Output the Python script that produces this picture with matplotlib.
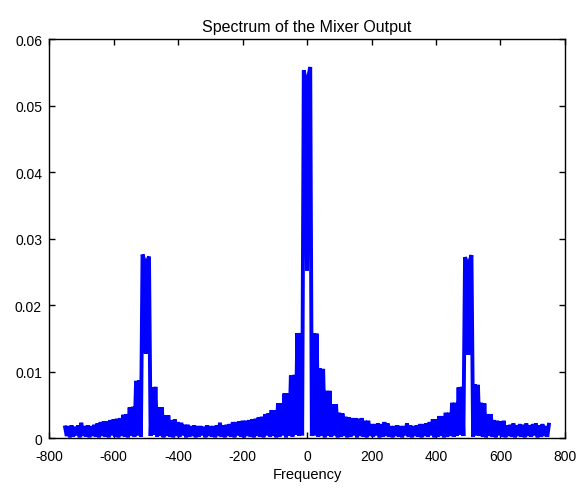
import numpy as np
import matplotlib
matplotlib.use("Agg")
import matplotlib.pyplot as plt

# Upper zigzag values at f = -750, -740, ..., 750 (151 values)
highs = [
    0.0016, 0.0018, 0.0019, 0.0017, 0.0019, 0.0023, 0.0018, 0.0019, 0.0018, 0.0020,
    0.0022, 0.0024, 0.0025, 0.0025, 0.0027, 0.0028, 0.0029, 0.0030, 0.0035, 0.0036,
    0.0046, 0.0047, 0.0086, 0.0087, 0.0276, 0.0127, 0.0273, 0.0076, 0.0077, 0.0046,
    0.0046, 0.0034, 0.0034, 0.0027, 0.0028, 0.0024, 0.0023, 0.0020, 0.0020, 0.0018,
    0.0019, 0.0018, 0.0018, 0.0017, 0.0019, 0.0018, 0.0018, 0.0019, 0.0023, 0.0019,
    0.0020, 0.0021, 0.0024, 0.0024, 0.0025, 0.0026, 0.0026, 0.0027, 0.0028, 0.0029,
    0.0031, 0.0032, 0.0036, 0.0037, 0.0042, 0.0042, 0.0052, 0.0052, 0.0067, 0.0067,
    0.0094, 0.0095, 0.0158, 0.0158, 0.0553, 0.0252, 0.0558, 0.0157, 0.0157, 0.0105,
    0.0104, 0.0071, 0.0071, 0.0051, 0.0051, 0.0038, 0.0037, 0.0032, 0.0031, 0.0030,
    0.0030, 0.0029, 0.0030, 0.0026, 0.0026, 0.0021, 0.0021, 0.0022, 0.0021, 0.0024,
    0.0022, 0.0018, 0.0018, 0.0019, 0.0018, 0.0018, 0.0022, 0.0019, 0.0018, 0.0019,
    0.0021, 0.0021, 0.0022, 0.0024, 0.0028, 0.0028, 0.0033, 0.0033, 0.0038, 0.0038,
    0.0053, 0.0053, 0.0076, 0.0077, 0.0272, 0.0125, 0.0275, 0.0081, 0.0080, 0.0053,
    0.0052, 0.0036, 0.0036, 0.0027, 0.0026, 0.0025, 0.0026, 0.0019, 0.0020, 0.0022,
    0.0019, 0.0021, 0.0020, 0.0022, 0.0019, 0.0021, 0.0022, 0.0019, 0.0021, 0.0018,
    0.0020,
]
# Lower zigzag values at f = -745, -735, ..., 745 (150 values)
lows = [
    0.0003, 0.0001, 0.0002, 0.0004, 0.0001, 0.0003, 0.0002, 0.0001, 0.0003, 0.0002,
    0.0001, 0.0003, 0.0002, 0.0001, 0.0004, 0.0002, 0.0001, 0.0003, 0.0002, 0.0001,
    0.0003, 0.0002, 0.0004, 0.0002, 0.0268, 0.0266, 0.0003, 0.0005, 0.0002, 0.0003,
    0.0001, 0.0003, 0.0002, 0.0001, 0.0003, 0.0002, 0.0004, 0.0001, 0.0002, 0.0003,
    0.0001, 0.0002, 0.0004, 0.0001, 0.0003, 0.0002, 0.0001, 0.0003, 0.0002, 0.0001,
    0.0003, 0.0002, 0.0001, 0.0004, 0.0002, 0.0001, 0.0003, 0.0002, 0.0001, 0.0003,
    0.0002, 0.0001, 0.0004, 0.0002, 0.0003, 0.0001, 0.0002, 0.0004, 0.0001, 0.0003,
    0.0002, 0.0005, 0.0003, 0.0004, 0.0540, 0.0545, 0.0003, 0.0004, 0.0002, 0.0003,
    0.0001, 0.0003, 0.0002, 0.0004, 0.0001, 0.0002, 0.0003, 0.0001, 0.0002, 0.0004,
    0.0001, 0.0003, 0.0002, 0.0001, 0.0003, 0.0002, 0.0004, 0.0001, 0.0002, 0.0003,
    0.0002, 0.0001, 0.0003, 0.0002, 0.0001, 0.0004, 0.0002, 0.0001, 0.0003, 0.0002,
    0.0001, 0.0003, 0.0002, 0.0004, 0.0001, 0.0002, 0.0003, 0.0001, 0.0002, 0.0003,
    0.0002, 0.0003, 0.0005, 0.0003, 0.0265, 0.0267, 0.0002, 0.0004, 0.0003, 0.0002,
    0.0001, 0.0003, 0.0002, 0.0001, 0.0004, 0.0002, 0.0001, 0.0003, 0.0002, 0.0001,
    0.0003, 0.0002, 0.0001, 0.0003, 0.0002, 0.0004, 0.0001, 0.0002, 0.0003, 0.0002,
]
assert len(highs) == 151 and len(lows) == 150

freq = np.arange(-750, 751, 5)
spectrum = np.empty(len(freq))
spectrum[0::2] = highs
spectrum[1::2] = lows

xticks = [-800, -600, -400, -200, 0, 200, 400, 600, 800]
yticks = [0, 0.01, 0.02, 0.03, 0.04, 0.05, 0.06]
yticklabels = ["0", "0.01", "0.02", "0.03", "0.04", "0.05", "0.06"]

plt.rcParams['font.family'] = ['Liberation Sans', 'DejaVu Sans']

fig = plt.figure(figsize=(5.78, 4.89), dpi=100)
ax = fig.add_axes([0.0848, 0.1022, 0.9775 - 0.0848, 0.918 - 0.1022])
ax.plot(freq, spectrum, color='#0000ff', linewidth=2.8, solid_joinstyle='miter')
ax.set_xlim(-800, 800)
ax.set_ylim(0, 0.06)
ax.set_xticks(xticks)
ax.set_xticklabels([str(t) for t in xticks])
ax.set_yticks(yticks)
ax.set_yticklabels(yticklabels)
ax.tick_params(direction='in', top=True, right=True, length=4, width=1,
               labelsize=10)
ax.tick_params(axis='x', pad=8)
ax.tick_params(axis='y', pad=5)
for s in ax.spines.values():
    s.set_linewidth(1.0)
ax.set_title('Spectrum of the Mixer Output', fontsize=11.5, pad=6)
ax.set_xlabel('Frequency', fontsize=10.5, labelpad=3)
fig.savefig('out.png', dpi=100)
